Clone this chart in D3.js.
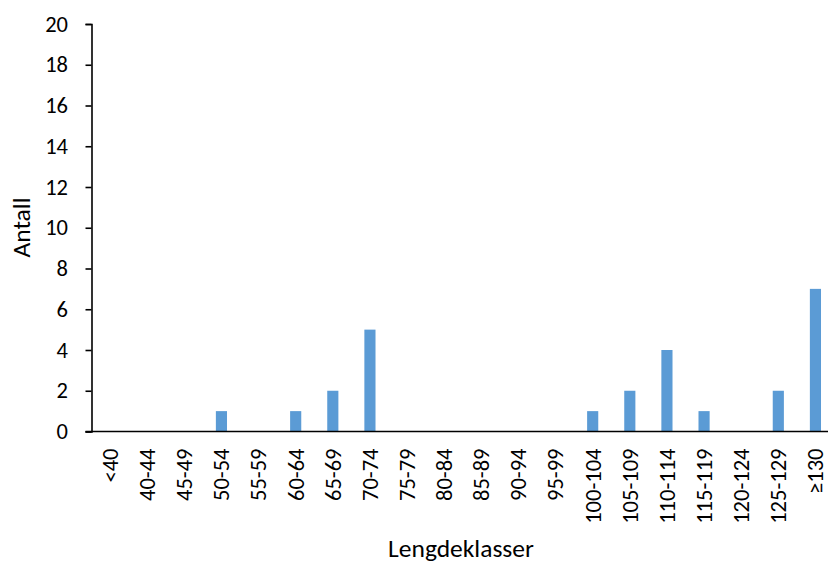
<!DOCTYPE html>
<html>
<head>
<meta charset="utf-8">
<script src="https://cdn.jsdelivr.net/npm/d3@7"></script>
<style>
  body { margin: 0; background: #fff; }
  svg text { font-family: Carlito, Calibri, "Liberation Sans", sans-serif; fill: #000; }
</style>
</head>
<body>
<div id="chart"></div>
<script>
const categories = ["<40", "40-44", "45-49", "50-54", "55-59", "60-64", "65-69", "70-74", "75-79",
    "80-84", "85-89", "90-94", "95-99", "100-104", "105-109", "110-114", "115-119", "120-124",
    "125-129", "≥130"];
const counts = [0, 0, 0, 1, 0, 1, 2, 5, 0, 0, 0, 0, 0, 1, 2, 4, 1, 0, 2, 7];
const yTicks = [0, 2, 4, 6, 8, 10, 12, 14, 16, 18, 20];

const width = 828, height = 566;
// plot runs a bit past the right edge, like the original
const plot = {left: 91.5, right: 834, top: 24, bottom: 431.5};

const svg = d3.select("#chart").append("svg")
    .attr("width", width)
    .attr("height", height);

const x = d3.scaleBand()
    .domain(categories)
    .range([plot.left, plot.right])
    .paddingInner(0.7)
    .paddingOuter(0.35);

const y = d3.scaleLinear()
    .domain([0, 20])
    .range([plot.bottom, plot.top]);

svg.append("g")
    .selectAll("rect")
    .data(categories.map((c, i) => ({cat: c, value: counts[i]})))
    .join("rect")
    .attr("x", d => x(d.cat))
    .attr("width", x.bandwidth())
    .attr("y", d => y(d.value))
    .attr("height", d => y(0) - y(d.value))
    .attr("fill", "#5b9bd5");

// y axis
const yAxis = svg.append("g")
    .attr("transform", `translate(${plot.left},0)`)
    .call(d3.axisLeft(y).tickValues(yTicks).tickSize(6).tickPadding(17.5));
yAxis.select(".domain").attr("stroke", "#000").attr("stroke-width", 1.6);
yAxis.selectAll(".tick line").attr("stroke", "#000").attr("stroke-width", 1.6);
yAxis.selectAll(".tick text")
    .style("font-size", "22.5px");

// x axis line + labels
svg.append("line")
    .attr("x1", plot.left - 6)
    .attr("x2", width)
    .attr("y1", y(0))
    .attr("y2", y(0))
    .attr("stroke", "#000")
    .attr("stroke-width", 1.6);

svg.append("g")
    .selectAll("text")
    .data(categories)
    .join("text")
    .attr("transform", d => `translate(${x(d) + x.bandwidth() / 2},${plot.bottom + 17}) rotate(-90)`)
    .attr("text-anchor", "end")
    .attr("dy", "0.35em")
    .style("font-size", "22.5px")
    .text(d => d);

svg.append("text")
    .attr("transform", `translate(30,227.5) rotate(-90)`)
    .attr("text-anchor", "middle")
    .style("font-size", "25.5px")
    .text("Antall");

svg.append("text")
    .attr("x", 461)
    .attr("y", 557)
    .attr("text-anchor", "middle")
    .style("font-size", "25.5px")
    .text("Lengdeklasser");
</script>
</body>
</html>
